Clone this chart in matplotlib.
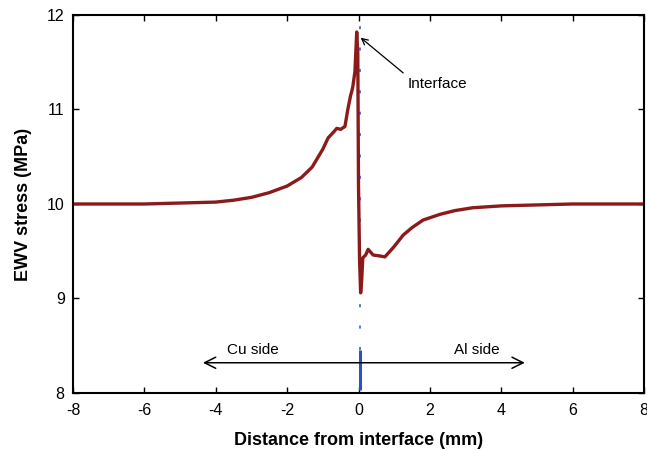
import matplotlib
matplotlib.use("Agg")
import matplotlib.pyplot as plt

plt.rcParams['font.family'] = ['Liberation Sans', 'DejaVu Sans']
plt.rcParams['axes.unicode_minus'] = False

# EWV stress profile across the Cu/Al interface
distance = [-8.0, -6.0, -5.0, -4.0, -3.5, -3.0, -2.5, -2.0, -1.6, -1.3, -1.0, -0.85, -0.7,
            -0.61, -0.5, -0.38, -0.3, -0.22, -0.19, -0.16, -0.1, -0.05, -0.02, 0.0, 0.03,
            0.06, 0.09, 0.12, 0.2, 0.27, 0.41, 0.6, 0.74, 1.0, 1.25, 1.5, 1.81, 2.28, 2.7,
            3.2, 4.0, 5.0, 6.0, 8.0]
stress = [10.0, 10.0, 10.01, 10.02, 10.04, 10.07, 10.12, 10.19, 10.28, 10.39, 10.58, 10.70,
          10.76, 10.80, 10.79, 10.82, 11.0, 11.15, 11.19, 11.24, 11.40, 11.82, 11.60, 10.2,
          9.4, 9.06, 9.20, 9.43, 9.46, 9.52, 9.46, 9.45, 9.44, 9.55, 9.67, 9.75, 9.83, 9.89,
          9.93, 9.96, 9.98, 9.99, 10.0, 10.0]

x_ticks = [-8, -6, -4, -2, 0, 2, 4, 6, 8]
y_ticks = [8, 9, 10, 11, 12]
interface_x = 0.04

fig = plt.figure(figsize=(6.47, 4.5), dpi=100)
ax = fig.add_axes([0.1128, 0.1267, 0.8826, 0.84])

# interface marker
ax.plot([interface_x, interface_x], [8.45, 12.0], color='#2a4fc8', lw=1.1,
        linestyle=(0, (2, 12)), zorder=1)
ax.plot([interface_x, interface_x], [8.03, 8.45], color='#2a4fc8', lw=2.2,
        solid_capstyle='butt', zorder=3)

ax.plot(distance, stress, color='#8b1a1a', lw=2.4, zorder=2)

ax.set_xlim(-8, 8)
ax.set_ylim(8, 12)
ax.set_xticks(x_ticks)
ax.set_yticks(y_ticks)
ax.tick_params(direction='in', top=True, right=True, labelsize=11.5, length=4, width=1)
ax.tick_params(axis='x', pad=7)
ax.tick_params(axis='y', pad=6)
for s in ax.spines.values():
    s.set_linewidth(1.5)

ax.set_xlabel('Distance from interface (mm)', fontsize=13, fontweight='bold', labelpad=10)
ax.set_ylabel('EWV stress (MPa)', fontsize=13, fontweight='bold', labelpad=11)

ax.annotate('Interface', xy=(0.06, 11.76), xytext=(1.39, 11.27),
            fontsize=11, va='center', ha='left',
            arrowprops=dict(arrowstyle='->', color='black', lw=0.9, shrinkA=2, shrinkB=0,
                            relpos=(0, 1)))

ax.annotate('', xy=(-4.36, 8.32), xytext=(4.66, 8.32),
            arrowprops=dict(arrowstyle='<->', color='black', lw=1.1,
                            mutation_scale=20, shrinkA=0, shrinkB=0))
ax.text(-2.95, 8.46, 'Cu side', fontsize=11, ha='center', va='center')
ax.text(3.32, 8.46, 'Al side', fontsize=11, ha='center', va='center')

fig.savefig('out.png', dpi=100)
